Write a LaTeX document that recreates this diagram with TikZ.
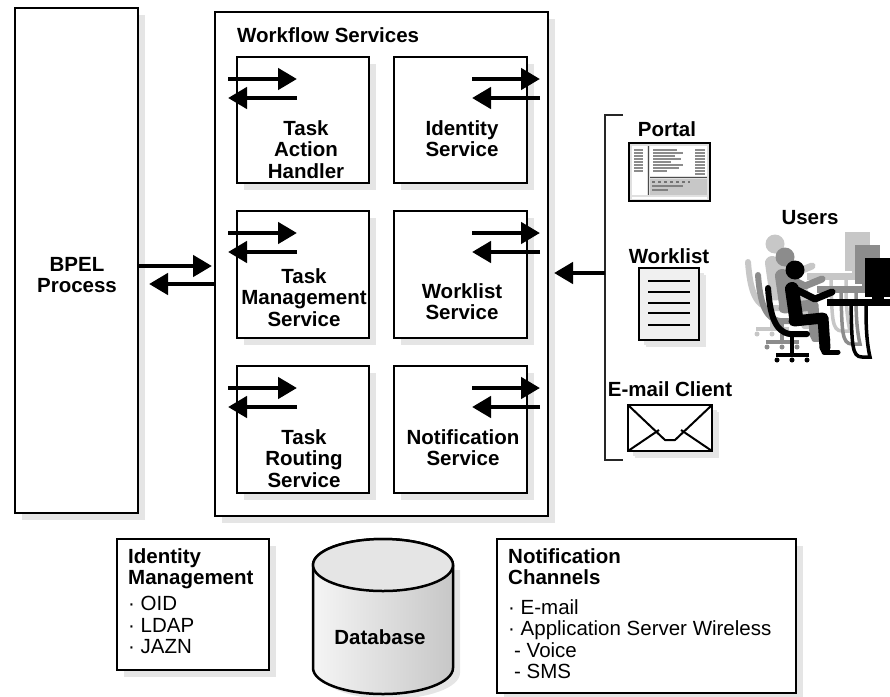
\documentclass[tikz,border=0pt]{standalone}
\usepackage{fontspec}
\setmainfont{Liberation Sans}
\usetikzlibrary{arrows.meta,shadows}

\newcommand{\figfont}{\fontsize{20.5}{21.5}\selectfont}

\tikzset{
  box/.style={draw, line width=2.5pt, fill=white, inner sep=0pt, outer sep=0pt,
    anchor=north west,
    general shadow={fill=black!10, shadow xshift=7pt, shadow yshift=-7pt}},
  bigarrow/.style={line width=4.5pt, -{Triangle[length=19pt,width=21pt]}},
  title/.style={font=\figfont\bfseries, align=center, inner sep=0pt},
  listing/.style={font=\figfont, align=left, inner sep=0pt, anchor=north west},
}

% one seated user at a desk
\newcommand{\deskuser}[1]{%
  \fill[#1] (795,270) circle[radius=9.5pt];
  \draw[#1, line width=14pt, line cap=round] (792,289) -- (796,317);
  \draw[#1, line width=7pt, line cap=round, line join=round] (797,290) -- (815,299) -- (832,292);
  \draw[#1, line width=11pt, line cap=round, line join=round] (794,321) -- (823,318) -- (825,348);
  \draw[#1, line width=5pt, line cap=round] (824,352) -- (838,352);
  \draw[#1, line width=6pt, line cap=round] (768,288) .. controls (770,315) and (775,332) .. (790,334) -- (807,334);
  \draw[#1, line width=3.5pt] (792,336) -- (792,353) (776,355) -- (809,355);
  \foreach \w in {777,792,807} \fill[#1] (\w,360) circle[radius=2.5pt];
  \fill[#1] (827,299) rectangle (890,306);
  \draw[#1, line width=3.5pt] (851,306) .. controls (852,345) and (852,357) .. (862,357) -- (870,357) .. controls (866,340) and (866,320) .. (866,306);
  \fill[#1] (865,258) rectangle (890,297);
  \fill[#1] (872,297) rectangle (884,300);
}

\begin{document}
\begin{tikzpicture}[x=1pt, y=-1pt]
\useasboundingbox (0,0) rectangle (890,696);

\node (bpel) at (15,8) [box, minimum width=123pt, minimum height=505pt] {};
\node (bpeltxt) at (77,275) [title] {BPEL\\Process};

\node (wfs) at (215,12) [box, minimum width=333pt, minimum height=504pt] {};
\node (wfstxt) at (237,35) [title, anchor=west] {Workflow Services};

\node (tah) at (237,57) [box, minimum width=132pt, minimum height=126pt] {};
\node (ids) at (394,57) [box, minimum width=133pt, minimum height=126pt] {};
\node (tms) at (237,211) [box, minimum width=132pt, minimum height=127pt] {};
\node (wls) at (394,211) [box, minimum width=133pt, minimum height=127pt] {};
\node (trs) at (237,366) [box, minimum width=132pt, minimum height=127pt] {};
\node (nts) at (394,366) [box, minimum width=133pt, minimum height=127pt] {};

\node (tahtxt) at (306,120) [title, anchor=north] {Task\\Action\\Handler};
\node (idstxt) at (462,120) [title, anchor=north] {Identity\\Service};
\node (tmstxt) at (304,268) [title, anchor=north] {Task\\Management\\Service};
\node (wlstxt) at (462,283) [title, anchor=north] {Worklist\\Service};
\node (trstxt) at (304,429) [title, anchor=north] {Task\\Routing\\Service};
\node (ntstxt) at (463,429) [title, anchor=north] {Notification\\Service};

\foreach \b in {tah,tms,trs} {
  \draw[bigarrow] ([shift={(-9pt,-22pt)}]\b.north west) -- ++(69,0);
  \draw[bigarrow] ([shift={(60pt,-41pt)}]\b.north west) -- ++(-69,0);
}
\foreach \b in {ids,wls,nts} {
  \draw[bigarrow] ([shift={(-55pt,-22pt)}]\b.north east) -- ++(68,0);
  \draw[bigarrow] ([shift={(13pt,-41pt)}]\b.north east) -- ++(-68,0);
}

\coordinate (up) at (212,266);
\coordinate (dn) at (149,284);
\draw[bigarrow] (bpel.east |- up) -- (up);
\draw[bigarrow] (wfs.west |- dn) -- (dn);

% clients
\coordinate (brmid) at (605,273);
\coordinate (pin) at (554,273);
\draw[line width=2.2pt, black!85] (623,115) -| (brmid) |- (623,460);
\draw[bigarrow] (brmid) -- (pin);

\node (portaltxt) at (667,129) [title] {Portal};
\node (portal) at (629,143) [draw, line width=2.5pt, fill=black!12, anchor=north west,
  inner sep=0pt, outer sep=0pt, minimum width=81pt, minimum height=58pt] {};
\fill[white] (632,146) rectangle (647,195);
\fill[white] (650,146) rectangle (707,176);
\fill[black!22] (650,179) rectangle (707,195);
\draw[black!70, line width=0.8pt] (648,146) -- (648,195) (650,177.5) -- (707,177.5);
\foreach \y in {150,153,...,171} \draw[black!45, line width=1.2pt] (634,\y) -- (643,\y);
\foreach \y/\l in {150/24,153/30,156/22,159/28,162/18,165/30,168/26,171/14}
  \draw[black!45, line width=1.2pt] (653,\y) -- ++(\l,0);
\foreach \y in {150,153,...,174} \draw[black!45, line width=1.2pt] (695,\y) -- (705,\y);
\draw[black!55, line width=1.2pt, dashed] (652,182) -- (690,182);
\draw[black!50, line width=1.5pt] (652,186) -- (683,186) (652,190) -- (668,190);
\fill[white] (632,196.5) rectangle (707,199);

\node (worklisttxt) at (669,256) [title] {Worklist};
\node (worklist) at (639,268) [box, fill=black!6, minimum width=60pt, minimum height=72pt,
  general shadow={fill=black!10, shadow xshift=5pt, shadow yshift=-5pt}] {};
\foreach \y in {281,292,303,313,325} \draw[line width=1.5pt] (648,\y) -- (690,\y);

\node (emailtxt) at (670,389) [title] {E-mail Client};
\node (email) at (628,405) [box, minimum width=84pt, minimum height=46pt,
  general shadow={fill=black!10, shadow xshift=5pt, shadow yshift=-5pt}] {};
\draw[line width=2pt, line join=round] (email.north west) -- (665,440) -- (675,440) -- (email.north east);
\draw[line width=2pt] (email.south west) -- (659,430) (email.south east) -- (681,430);

% users
\node (userstxt) at (810,218) [title] {Users};
\begin{scope}[shift={(-20,-26)}] \deskuser{black!22} \end{scope}
\begin{scope}[shift={(-10,-13)}] \deskuser{black!45} \end{scope}
\deskuser{black}

% bottom row
\node (idm) at (117,539) [box, minimum width=152pt, minimum height=131pt] {};
\node (idmtxt) at (128,548) [title, align=left, anchor=north west] {Identity\\Management};
\node (idmlist) at (128,596) [listing] {· OID\\· LDAP\\· JAZN};

\fill[black!10] (320,570) -- (320,673) arc[start angle=180, end angle=360, x radius=70pt, y radius=26pt] -- (460,570) -- cycle;
\draw[line width=2.5pt, left color=black!4, right color=black!22]
  (313,565) -- (313,668) arc[start angle=180, end angle=360, x radius=70pt, y radius=26pt]
  -- (453,565) arc[start angle=0, end angle=180, x radius=70pt, y radius=26pt] -- cycle;
\draw[line width=2.5pt, fill=black!10] (383,565) ellipse[x radius=70pt, y radius=26pt];
\node (db) at (380,637) [title] {Database};

\node (nch) at (497,539) [box, minimum width=299pt, minimum height=154pt] {};
\node (nchtxt) at (508,548) [title, align=left, anchor=north west] {Notification\\Channels};
\node (nchlist) at (508,599) [listing] {· E-mail\\· Application Server Wireless\\\hspace*{6pt}- Voice\\\hspace*{6pt}- SMS};
\end{tikzpicture}
\end{document}
